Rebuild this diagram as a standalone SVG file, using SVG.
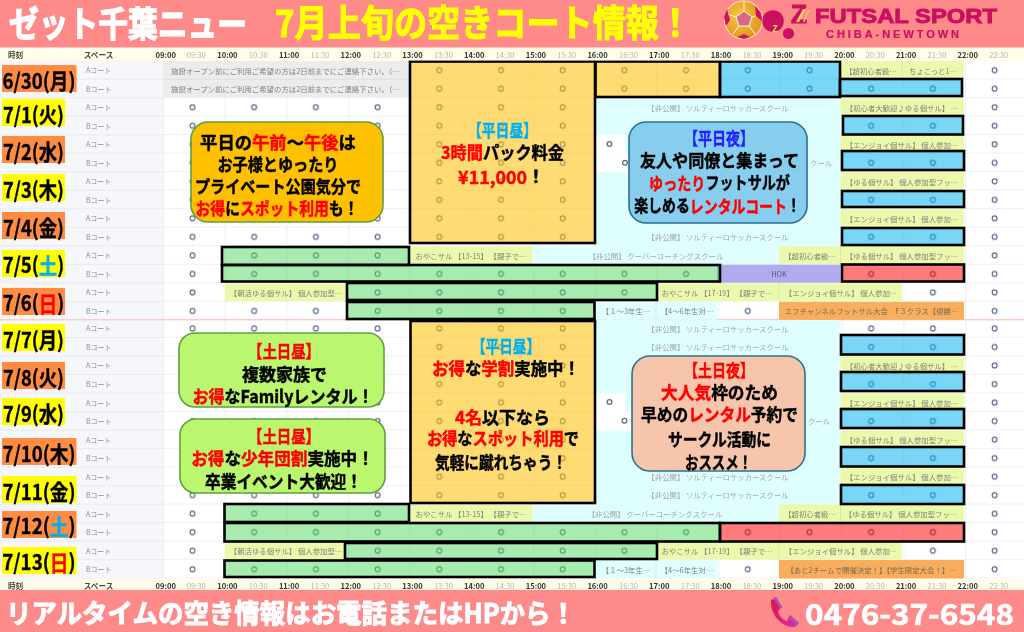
<svg xmlns="http://www.w3.org/2000/svg" xmlns:xlink="http://www.w3.org/1999/xlink" width="1024" height="632" viewBox="0 0 1024 632">
<style>
text{font-family:"Noto Sans CJK JP","Noto Sans",sans-serif}
.t{font-size:7.4px;fill:#80827a;text-anchor:middle;dominant-baseline:central}
.tc{font-size:7.4px;fill:#a2a8aa;text-anchor:middle;dominant-baseline:central}
.g{fill:#ececec}.y{fill:#ebf9ad}.c{fill:#dfffff}.w{fill:#fff}.o{fill:#f8ae5c}.p{fill:#b0abef}
.bo,.bb,.bg,.br{stroke:#000;stroke-width:2.6}
.bo{fill:#ffc000;fill-opacity:.55}.bb{fill:#00b0f0;fill-opacity:.52}.bg{fill:#4fd860;fill-opacity:.5}.br{fill:#ff0000;fill-opacity:.52}
.h{font-size:7.6px;font-weight:700;fill:#333;text-anchor:middle;dominant-baseline:central}
.m{font-size:7.6px;fill:#b4b4b4;text-anchor:middle;dominant-baseline:central}
.hl{font-size:7.6px;font-weight:700;fill:#444;text-anchor:middle;dominant-baseline:central}
.ab{font-size:7px;fill:#8a8d96;dominant-baseline:central}
.d{font-size:21.500px;font-weight:700;fill:#000;stroke:#000;stroke-width:.35;text-anchor:middle;dominant-baseline:central}
.l{font-size:17.500px;font-weight:700;fill:#000;stroke:#000;stroke-width:.45;text-anchor:middle;dominant-baseline:central}
.R{fill:#f00;stroke:#f00}.B{fill:#00b0f0;stroke:#00b0f0}.N{fill:#2222ff;stroke:#2222ff}
.bd{fill:#ff8c42}.by{fill:#ffff00}
.cal{stroke-width:1.6}
</style>
<defs>
<pattern id="grid" width="61.7" height="18.52" patternUnits="userSpaceOnUse" x="163" y="61">
<path d="M.5 0V18.52" stroke="#eceef6" fill="none"/><path d="M0 18.2H61.7" stroke="#e8eaf2" fill="none"/>
<circle cx="29.5" cy="9.2" r="2.4" fill="none" stroke="#5d688c" stroke-width="1.2"/>
</pattern>
<pattern id="grid2" width="61.7" height="18.52" patternUnits="userSpaceOnUse" x="163" y="60">
<path d="M.5 0V18.52" stroke="#eceef6" fill="none"/><path d="M0 18.2H61.7" stroke="#e8eaf2" fill="none"/>
<circle cx="29.5" cy="9.2" r="2.4" fill="none" stroke="#5d688c" stroke-width="1.2"/>
</pattern>
<filter id="soft" x="0" y="0" width="1" height="1"><feGaussianBlur stdDeviation=".38"/></filter>
<radialGradient id="ball" cx=".4" cy=".4" r=".7"><stop offset="0" stop-color="#f8c840"/><stop offset="1" stop-color="#dc9018"/></radialGradient>
<linearGradient id="ph" x1="0" y1="0" x2="1" y2="1"><stop offset="0" stop-color="#d81840"/><stop offset="1" stop-color="#e828b0"/></linearGradient>
<g id="hdr">
<rect x="0" y="-6" width="1024" height="12.5" fill="#fffde8"/>
<text class="hl" x="15.5" y="0">時刻</text><text class="hl" x="98.5" y="0">スペース</text>
<text class="h" x="165.7" y="0">09:00</text><text class="m" x="196.2" y="0">09:30</text>
<text class="h" x="227.4" y="0">10:00</text><text class="m" x="258.2" y="0">10:30</text>
<text class="h" x="289.1" y="0">11:00</text><text class="m" x="320" y="0">11:30</text>
<text class="h" x="350.8" y="0">12:00</text><text class="m" x="381.7" y="0">12:30</text>
<text class="h" x="412.5" y="0">13:00</text><text class="m" x="443.4" y="0">13:30</text>
<text class="h" x="474.2" y="0">14:00</text><text class="m" x="505.1" y="0">14:30</text>
<text class="h" x="535.9" y="0">15:00</text><text class="m" x="566.8" y="0">15:30</text>
<text class="h" x="597.6" y="0">16:00</text><text class="m" x="628.5" y="0">16:30</text>
<text class="h" x="659.3" y="0">17:00</text><text class="m" x="690.2" y="0">17:30</text>
<text class="h" x="721" y="0">18:00</text><text class="m" x="751.9" y="0">18:30</text>
<text class="h" x="782.7" y="0">19:00</text><text class="m" x="813.6" y="0">19:30</text>
<text class="h" x="844.4" y="0">20:00</text><text class="m" x="875.3" y="0">20:30</text>
<text class="h" x="906.1" y="0">21:00</text><text class="m" x="937" y="0">21:30</text>
<text class="h" x="967.8" y="0">22:00</text><text class="m" x="998.7" y="0">22:30</text>
</g>
<g id="ab"><text class="ab" x="86" y="9.2">Aコート</text><text class="ab" x="86" y="27.7">Bコート</text></g>
</defs>

<rect width="1024" height="632" fill="#fff"/>

<g id="schedule" filter="url(#soft)">
<rect y="60" width="163" height="519" fill="#f6f7fb"/>
<rect y="246" width="35" height="37" fill="#f2f5ff"/><rect y="283" width="35" height="37" fill="#fff3f3"/>
<rect y="504" width="35" height="37" fill="#f2f5ff"/><rect y="541" width="35" height="37" fill="#fff3f3"/>
<path d="M35 60V578" stroke="#eceef4" fill="none"/>
<path d="M0 79.2H163M0 97.7H163M0 116.2H163M0 134.8H163M0 153.3H163M0 171.8H163M0 190.3H163M0 208.8H163M0 227.4H163M0 245.9H163M0 264.4H163M0 282.9H163M0 301.4H163M0 337.5H163M0 356H163M0 374.5H163M0 393.1H163M0 411.6H163M0 430.1H163M0 448.6H163M0 467.1H163M0 485.7H163M0 504.2H163M0 522.7H163M0 541.2H163M0 559.7H163" stroke="#e8eaf2" fill="none"/>
<rect x="163" y="61" width="861" height="259.3" fill="url(#grid)"/>
<rect x="163" y="320.3" width="861" height="258.2" fill="url(#grid2)"/>
<path d="M0 319.8H1024" stroke="#ffb8b8" fill="none"/>
<use xlink:href="#ab" href="#ab" y="61"/><use xlink:href="#ab" href="#ab" y="98"/><use xlink:href="#ab" href="#ab" y="135.1"/><use xlink:href="#ab" href="#ab" y="172.1"/><use xlink:href="#ab" href="#ab" y="209.2"/><use xlink:href="#ab" href="#ab" y="246.2"/><use xlink:href="#ab" href="#ab" y="283.2"/>
<use xlink:href="#ab" href="#ab" y="319.3"/><use xlink:href="#ab" href="#ab" y="356.3"/><use xlink:href="#ab" href="#ab" y="393.4"/><use xlink:href="#ab" href="#ab" y="430.4"/><use xlink:href="#ab" href="#ab" y="467.4"/><use xlink:href="#ab" href="#ab" y="504.5"/><use xlink:href="#ab" href="#ab" y="541.5"/>

<g id="cells">
<rect class="g" x="163" y="61" width="246" height="36.5"/>
<path d="M163 79.3H409" stroke="#e0e0e0"/>
<text class="t" x="285.5" y="70">施設オープン前にご利用ご希望の方は2日前までにご連絡下さい。（…</text>
<text class="t" x="285.5" y="88.5">施設オープン前にご利用ご希望の方は2日前までにご連絡下さい。（…</text>
<rect class="y" x="840.5" y="61" width="123.5" height="18"/>
<path d="M902 61V79" stroke="#dce8a0"/>
<text class="t" x="871" y="70">【超初心者級…</text><text class="t" x="933" y="70">ちょこっと1…</text>

<rect class="c" x="595" y="98" width="245.5" height="148"/>
<rect class="w" x="595" y="135.1" width="30" height="18.5"/><circle cx="609.5" cy="144" r="2.4" fill="none" stroke="#5d688c" stroke-width="1.2"/>
<rect class="w" x="595" y="153.6" width="61" height="18.5"/><circle cx="625" cy="162.8" r="2.4" fill="none" stroke="#5d688c" stroke-width="1.2"/>
<text class="tc" x="718" y="107">【非公開】 ソルティーロサッカースクール</text>
<text class="tc" x="821" y="162.500">クール</text>
<text class="tc" x="718" y="236.5">【非公開】 ソルティーロサッカースクール</text>
<rect class="y" x="840.5" y="98" width="123.5" height="18"/><text class="t" x="902" y="107">【初心者大歓迎♪ゆる個サル】 …</text>
<rect class="y" x="840.5" y="135.1" width="123.5" height="18"/><text class="t" x="902" y="144">【エンジョイ個サル】 個人参加…</text>
<rect class="y" x="840.5" y="172.1" width="123.5" height="18"/><text class="t" x="902" y="181">【ゆる個サル】 個人参加型フッ…</text>
<rect class="y" x="840.5" y="209.2" width="123.5" height="18"/><text class="t" x="902" y="218">【エンジョイ個サル】 個人参加…</text>

<rect class="y" x="409" y="246.2" width="123.5" height="18"/><text class="t" x="471" y="255">おやこサル 【13-15】 【親子で…</text>
<rect class="c" x="532.5" y="246.2" width="246.5" height="18"/><text class="tc" x="656" y="255">【非公開】 クーバーコーチングスクール</text>
<rect class="y" x="779" y="246.2" width="61.5" height="18"/><text class="t" x="810" y="255">【超初心者級…</text>
<rect class="y" x="840.5" y="246.2" width="123.5" height="18"/><path d="M840.5 246.2V264" stroke="#dce8a0"/><text class="t" x="902" y="255">【ゆる個サル】 個人参加型フッ…</text>
<rect class="p" x="717" y="264.7" width="123.5" height="18"/><text x="779" y="273.7" style="font-size:7.4px;fill:#555a80;text-anchor:middle;dominant-baseline:central">HOK</text>

<rect class="y" x="225" y="283.2" width="122" height="18"/><text class="t" x="286" y="292">【朝活ゆる個サル】 個人参加型…</text>
<rect class="y" x="656" y="283.2" width="123" height="18"/><text class="t" x="717" y="292">おやこサル 【17-19】 【親子で…</text>
<rect class="y" x="779" y="283.2" width="123" height="18"/><path d="M779 283.2V301" stroke="#dce8a0"/><text class="t" x="841" y="292">【エンジョイ個サル】 個人参加…</text>

<rect class="c" x="595" y="301.8" width="122" height="18"/><path d="M656 301.8V319.8" stroke="#d2eeee"/>
<text class="t" x="626" y="310.8">【１～3年生…</text><text class="t" x="687" y="310.8">【4～6年生対…</text>
<rect class="o" x="779" y="301.8" width="185" height="18"/><text class="t" x="871.5" y="310.8" style="fill:#7a6a50">エフチャンネルフットサル大会　F３クラス【優勝…</text>

<rect class="c" x="595" y="320.3" width="245.5" height="184"/>
<rect class="w" x="595" y="393.4" width="30" height="18.5"/><circle cx="609.5" cy="402" r="2.4" fill="none" stroke="#5d688c" stroke-width="1.2"/>
<rect class="w" x="595" y="411.9" width="61" height="18.5"/><circle cx="624.5" cy="420.8" r="2.4" fill="none" stroke="#5d688c" stroke-width="1.2"/>
<text class="tc" x="718" y="328.3">【非公開】 ソルティーロサッカースクール</text>
<text class="tc" x="718" y="346.8">【非公開】 ソルティーロサッカースクール</text>
<text class="tc" x="819" y="420.800">クール</text>
<text class="tc" x="718" y="476.3">【非公開】 ソルティーロサッカースクール</text>
<text class="tc" x="718" y="494.8">【非公開】 ソルティーロサッカースクール</text>
<rect class="y" x="840.5" y="356.3" width="123.5" height="18"/><text class="t" x="902" y="365.2">【初心者大歓迎♪ゆる個サル】 …</text>
<rect class="y" x="840.5" y="393.4" width="123.5" height="18"/><text class="t" x="902" y="402.2">【エンジョイ個サル】 個人参加…</text>
<rect class="y" x="840.5" y="430.4" width="123.5" height="18"/><text class="t" x="902" y="439.2">【ゆる個サル】 個人参加型フッ…</text>
<rect class="y" x="840.5" y="467.4" width="123.5" height="18"/><text class="t" x="902" y="476.3">【エンジョイ個サル】 個人参加…</text>

<rect class="y" x="409" y="504.5" width="123.5" height="18"/><text class="t" x="471" y="513.4">おやこサル 【13-15】 【親子で…</text>
<rect class="c" x="532.5" y="504.5" width="246.5" height="18"/><text class="tc" x="655" y="513.4">【非公開】 クーバーコーチングスクール</text>
<rect class="y" x="779" y="504.5" width="61.5" height="18"/><text class="t" x="810" y="513.4">【超初心者級…</text>
<rect class="y" x="840.5" y="504.5" width="123.5" height="18"/><path d="M840.5 504.5V522.5" stroke="#dce8a0"/><text class="t" x="901" y="513.4">【ゆる個サル】 個人参加型フッ…</text>

<rect class="y" x="225" y="541.5" width="120" height="18"/><text class="t" x="286" y="550.4">【朝活ゆる個サル】 個人参加型…</text>
<rect class="y" x="656" y="541.5" width="123" height="18"/><text class="t" x="717" y="550.4">おやこサル 【17-19】 【親子で…</text>
<rect class="y" x="779" y="541.5" width="123" height="18"/><path d="M779 541.5V559.5" stroke="#dce8a0"/><text class="t" x="841" y="550.4">【エンジョイ個サル】 個人参加…</text>

<rect class="c" x="595" y="560" width="122" height="18.5"/><path d="M656 560V578" stroke="#d2eeee"/>
<text class="t" x="626" y="569">【１～3年生…</text><text class="t" x="687" y="569">【4～6年生対…</text>
<rect class="o" x="779" y="560" width="185" height="18.5"/><text class="t" x="871.5" y="569" style="fill:#7a6a50">【あと2チームで開催決定！】【学生限定大会！】…</text>
</g>

<g id="highlights">
<rect class="bo" x="410" y="61.5" width="185" height="181.5"/>
<rect class="bo" x="595.5" y="61.5" width="124.5" height="35.5"/>
<rect class="bb" x="720" y="61.5" width="120" height="35.5"/>
<rect class="bb" x="840" y="79" width="122" height="17"/>
<rect class="bb" x="843" y="116" width="120" height="18.5"/>
<rect class="bb" x="842" y="151" width="122" height="19"/>
<rect class="bb" x="842" y="191" width="122" height="16"/>
<rect class="bb" x="842" y="228" width="122" height="17"/>
<rect class="bg" x="222" y="247" width="187" height="18"/>
<rect class="bg" x="222" y="265" width="498" height="16.5"/>
<rect class="br" x="842" y="264.5" width="122" height="17"/>
<rect class="bg" x="347" y="283" width="310" height="17"/>
<rect class="bg" x="347" y="302" width="247.5" height="17"/>
<rect class="bo" x="410.5" y="321" width="184.5" height="182"/>
<rect class="bb" x="841" y="335" width="123" height="19.5"/>
<rect class="bb" x="841" y="372" width="123" height="19"/>
<rect class="bb" x="841" y="409" width="123" height="19"/>
<rect class="bb" x="841" y="447" width="123" height="19.5"/>
<rect class="bb" x="841" y="485" width="123" height="19"/>
<rect class="bg" x="224.5" y="504" width="184.5" height="18"/>
<rect class="bg" x="224.5" y="523" width="495.5" height="18.5"/>
<rect class="br" x="720" y="523" width="244" height="18.5"/>
<rect class="bg" x="345" y="543" width="312" height="16"/>
<rect class="bg" x="224.5" y="560.5" width="370" height="16.5"/>
</g>
<use id="head-top" xlink:href="#hdr" href="#hdr" y="54"/>
<use id="head-bottom" xlink:href="#hdr" href="#hdr" y="585"/>
</g>

<g id="banner-top">
<rect width="1024" height="47.5" fill="#ff8a8a"/>
<text x="9" y="21.500" textLength="238" lengthAdjust="spacingAndGlyphs" style="font-size:35px;font-weight:700;fill:#fff;stroke:#fff;stroke-width:1.3;dominant-baseline:central">ゼット千葉ニュー</text>
<text x="275" y="21" textLength="417" lengthAdjust="spacingAndGlyphs" style="font-size:37px;font-weight:700;fill:#ffff00;stroke:#ffff00;stroke-width:1.100;dominant-baseline:central">7月上旬の空きコート情報！</text>
</g>

<g id="logo">
<circle cx="743.500" cy="20" r="19" fill="url(#ball)" stroke="#fbe6e6" stroke-width="1"/>
<path d="M744 11l8 6-3 9h-10l-3-9z" fill="#d86a80" stroke="#fff" stroke-width=".9"/>
<path d="M744 11V2M752 17l9-3M749 26l6 8M739 26l-6 8M736 17l-9-3" fill="none" stroke="#fff" stroke-width=".9"/>
<path d="M727 9l-3 8 2 9 4-6zM755 6l6 7 1 8-6-5zM737 37l7 2 6-2-6-3z" fill="#d01060"/>
<circle cx="773" cy="21" r="10.800" fill="#cc1060"/>
<circle cx="788.500" cy="33.500" r="5.600" fill="#cc1060"/>
<text x="775" y="28" style="font-size:9px;font-weight:700;fill:#f0d060;text-anchor:middle;dominant-baseline:central">Z</text>
<text x="799" y="14" style="font-size:26px;font-weight:700;fill:#cc1060;stroke:#cc1060;stroke-width:1.200;text-anchor:middle;dominant-baseline:central;font-family:'Liberation Sans',sans-serif">Z</text>
<path d="M803 9h3l-7 13h-3zM808 10h1.500l-5 12h-1.500z" fill="#f0d060"/>
<text x="815" y="16" textLength="182" lengthAdjust="spacingAndGlyphs" style="font-size:20px;font-weight:700;fill:#cc1060;stroke:#cc1060;stroke-width:.9;dominant-baseline:central;font-family:'Liberation Sans',sans-serif">FUTSAL SPORT</text>
<text x="826" y="33.500" textLength="133" style="font-size:11px;font-weight:700;fill:#cc1060;stroke:#cc1060;stroke-width:.2;dominant-baseline:central;font-family:'Liberation Sans',sans-serif">CHIBA-NEWTOWN</text>
</g>

<g id="dates">
<g id="d0630"><rect class="bd" x="2" y="65" width="74.500" height="27"/><text class="d" x="39" y="79" textLength="73" lengthAdjust="spacingAndGlyphs">6/30(月)</text></g>
<g id="d0701"><rect class="by" x="2" y="99" width="63" height="27"/><text class="d" x="33.500" y="113" textLength="61" lengthAdjust="spacingAndGlyphs">7/1(火)</text></g>
<g id="d0702"><rect class="bd" x="2" y="136" width="63" height="27"/><text class="d" x="33.500" y="150" textLength="61" lengthAdjust="spacingAndGlyphs">7/2(水)</text></g>
<g id="d0703"><rect class="by" x="2" y="174" width="63" height="27"/><text class="d" x="33.500" y="188" textLength="61" lengthAdjust="spacingAndGlyphs">7/3(木)</text></g>
<g id="d0704"><rect class="bd" x="2" y="212" width="63" height="27"/><text class="d" x="33.500" y="226" textLength="61" lengthAdjust="spacingAndGlyphs">7/4(金)</text></g>
<g id="d0705"><rect class="by" x="2" y="250" width="63" height="27"/><text class="d" transform="translate(33.500 264) scale(.86 1)">7/5(<tspan class="B">土</tspan>)</text></g>
<g id="d0706"><rect class="bd" x="2" y="288" width="63" height="27"/><text class="d" transform="translate(33.500 302) scale(.86 1)">7/6(<tspan class="R">日</tspan>)</text></g>
<g id="d0707"><rect class="by" x="2" y="324" width="63" height="27"/><text class="d" x="33.500" y="338" textLength="61" lengthAdjust="spacingAndGlyphs">7/7(月)</text></g>
<g id="d0708"><rect class="bd" x="2" y="362" width="63" height="27"/><text class="d" x="33.500" y="376" textLength="61" lengthAdjust="spacingAndGlyphs">7/8(火)</text></g>
<g id="d0709"><rect class="by" x="2" y="398" width="63" height="27"/><text class="d" x="33.500" y="412" textLength="61" lengthAdjust="spacingAndGlyphs">7/9(水)</text></g>
<g id="d0710"><rect class="bd" x="2" y="438" width="74.500" height="27"/><text class="d" x="39" y="452" textLength="73" lengthAdjust="spacingAndGlyphs">7/10(木)</text></g>
<g id="d0711"><rect class="by" x="2" y="476" width="74.500" height="27"/><text class="d" x="39" y="490" textLength="73" lengthAdjust="spacingAndGlyphs">7/11(金)</text></g>
<g id="d0712"><rect class="bd" x="2" y="511" width="74.500" height="27"/><text class="d" transform="translate(39 525) scale(.873 1)">7/12(<tspan class="B">土</tspan>)</text></g>
<g id="d0713"><rect class="by" x="2" y="547" width="74.500" height="27"/><text class="d" transform="translate(39 561) scale(.873 1)">7/13(<tspan class="R">日</tspan>)</text></g>
</g>

<g id="note-weekday-am">
<rect class="cal" x="191" y="122" width="192" height="100" rx="17" fill="#ffc000" stroke="#5aa040"/>
<text class="l" transform="translate(278 141) scale(.99 1)">平日の<tspan class="R">午前</tspan>～<tspan class="R">午後</tspan>は</text>
<text class="l" x="278" y="163" textLength="121" lengthAdjust="spacingAndGlyphs">お子様とゆったり</text>
<text class="l" x="278" y="185" textLength="166" lengthAdjust="spacingAndGlyphs">プライベート公園気分で</text>
<text class="l" transform="translate(277 207) scale(.847 1)"><tspan class="R">お得</tspan>に<tspan class="R">スポット利用</tspan>も！</text>
</g>
<g id="note-weekday-pack">
<text class="l B" x="502.500" y="129.500" textLength="69" lengthAdjust="spacingAndGlyphs">【平日昼】</text>
<text class="l" transform="translate(502.500 151) scale(.926 1)"><tspan class="R">3時間</tspan>パック料金</text>
<text class="l" transform="translate(501.500 176) scale(1.02 1)"><tspan class="R">¥11,000</tspan>！</text>
</g>
<g id="note-weekday-night">
<rect class="cal" x="629" y="122" width="178" height="101" rx="17" fill="#87cdee" stroke="#2a7090"/>
<text class="l N" x="719" y="137" textLength="70" lengthAdjust="spacingAndGlyphs">【平日夜】</text>
<text class="l" x="719.500" y="159" textLength="159" lengthAdjust="spacingAndGlyphs">友人や同僚と集まって</text>
<text class="l" transform="translate(719.500 182) scale(.806 1)"><tspan class="R">ゆったり</tspan>フットサルが</text>
<text class="l" transform="translate(717.500 205) scale(.795 1)">楽しめる<tspan class="R">レンタルコート</tspan>！</text>
</g>
<g id="note-family">
<rect class="cal" x="179" y="333" width="205" height="74" rx="16" fill="#bbf66f" stroke="#60a040"/>
<text class="l R" x="284" y="350" textLength="72" lengthAdjust="spacingAndGlyphs">【土日昼】</text>
<text class="l" x="284.500" y="373" textLength="85" lengthAdjust="spacingAndGlyphs">複数家族で</text>
<text class="l" transform="translate(283 396) scale(.918 1)"><tspan class="R">お得</tspan>なFamilyレンタル！</text>
</g>
<g id="note-team">
<rect class="cal" x="180" y="419" width="205" height="74" rx="16" fill="#bbf66f" stroke="#60a040"/>
<text class="l R" x="284" y="435" textLength="72" lengthAdjust="spacingAndGlyphs">【土日昼】</text>
<text class="l" transform="translate(282.500 457) scale(.95 1)"><tspan class="R">お得</tspan>な<tspan class="R">少年団割</tspan>実施中！</text>
<text class="l" x="283.500" y="480" textLength="157" lengthAdjust="spacingAndGlyphs">卒業イベント大歓迎！</text>
</g>
<g id="note-weekday-student">
<text class="l B" x="506" y="345" textLength="68" lengthAdjust="spacingAndGlyphs">【平日昼】</text>
<text class="l" transform="translate(506 367) scale(.94 1)"><tspan class="R">お得</tspan>な<tspan class="R">学割</tspan>実施中！</text>
<text class="l" transform="translate(502.500 416) scale(.97 1)"><tspan class="R">4名</tspan>以下なら</text>
<text class="l" transform="translate(503 438) scale(.87 1)"><tspan class="R">お得</tspan>な<tspan class="R">スポット利用</tspan>で</text>
<text class="l" x="501" y="461" textLength="132" lengthAdjust="spacingAndGlyphs">気軽に蹴れちゃう！</text>
</g>
<g id="note-weekend-night">
<rect class="cal" x="632" y="356" width="173" height="115" rx="18" fill="#f6c5ab" stroke="#2a7090"/>
<text class="l R" x="719" y="369" textLength="70" lengthAdjust="spacingAndGlyphs">【土日夜】</text>
<text class="l" transform="translate(719.500 391) scale(.955 1)"><tspan class="R">大人気</tspan>枠のため</text>
<text class="l" transform="translate(719.500 414) scale(.897 1)">早めの<tspan class="R">レンタル</tspan>予約で</text>
<text class="l" x="719.500" y="438" textLength="103" lengthAdjust="spacingAndGlyphs">サークル活動に</text>
<text class="l" x="718.500" y="461" textLength="67" lengthAdjust="spacingAndGlyphs">おススメ！</text>
</g>

<g id="banner-bottom">
<rect y="590" width="1024" height="42" fill="#ff8a8a"/>
<text x="6" y="611.500" textLength="570" lengthAdjust="spacingAndGlyphs" style="font-size:26.500px;font-weight:700;fill:#fff;stroke:#fff;stroke-width:1;dominant-baseline:central">リアルタイムの空き情報はお電話またはHPから！</text>
<path d="M771 600L776 597 782 607 778 611C779 616 783 620 787 621L790 615 799 623 795 627C783 628 770 616 771 600Z" fill="url(#ph)"/>
<path d="M771 600L776 597 782 607 780 609 775 600ZM790 615L799 623 795 627 793 625 795 623 788 618Z" fill="#a850c0"/>
<text x="805" y="612" textLength="209" lengthAdjust="spacingAndGlyphs" style="font-size:29px;font-weight:700;fill:#fff;stroke:#fff;stroke-width:.6;dominant-baseline:central">0476-37-6548</text>
</g>
</svg>
